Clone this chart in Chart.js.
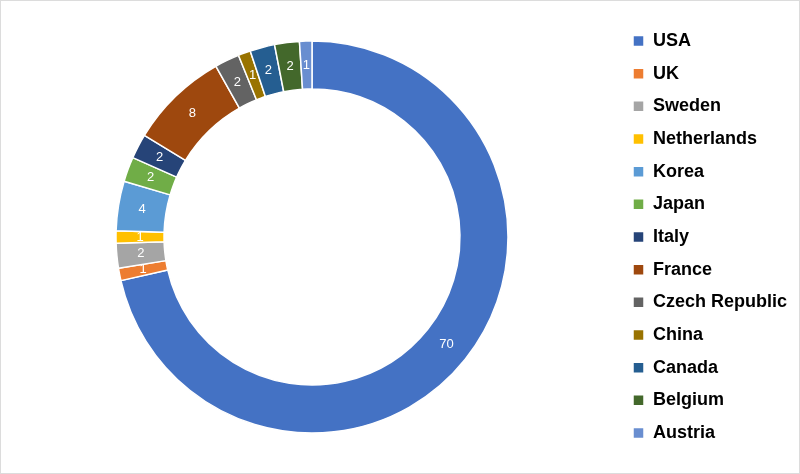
<!DOCTYPE html>
<html>
<head>
<meta charset="utf-8">
<script src="https://cdn.jsdelivr.net/npm/chart.js@4/dist/chart.umd.min.js"></script>
<style>
  html, body { margin: 0; padding: 0; background: #fff; }
  #wrap { width: 798px; height: 472px; border: 1px solid #dcdcdc; }
</style>
</head>
<body>
<div id="wrap"><canvas id="chart" width="798" height="472"></canvas></div>
<script>
const countries = ['USA', 'UK', 'Sweden', 'Netherlands', 'Korea', 'Japan', 'Italy',
  'France', 'Czech Republic', 'China', 'Canada', 'Belgium', 'Austria'];
const counts = [70, 1, 2, 1, 4, 2, 2, 8, 2, 1, 2, 2, 1];
const colors = ['#4472C4', '#ED7D31', '#A5A5A5', '#FFC000', '#5B9BD5', '#70AD47', '#264478',
  '#9E480E', '#636363', '#997300', '#255E91', '#43682B', '#698ED0'];

const legendFont = { family: "'Liberation Sans', Arial, sans-serif", size: 18, weight: 'bold' };
const legendPad = 14.67;

// measure widest legend label so the legend lands at the same x as the reference
const mctx = document.createElement('canvas').getContext('2d');
mctx.font = 'bold 18px "Liberation Sans", Arial, sans-serif';
const widest = Math.max(...countries.map(c => mctx.measureText(c).width));
const padRight = Math.max(0, 798 - 632 - 30 - widest);

// value labels in the middle of each slice
const sliceLabels = {
  id: 'sliceLabels',
  afterDatasetsDraw(chart) {
    const ctx = chart.ctx;
    const meta = chart.getDatasetMeta(0);
    ctx.save();
    ctx.font = '13px "Liberation Sans", Arial, sans-serif';
    ctx.fillStyle = '#ffffff';
    ctx.textAlign = 'center';
    ctx.textBaseline = 'middle';
    meta.data.forEach((arc, i) => {
      const p = arc.tooltipPosition();
      ctx.fillText(String(counts[i]), p.x, p.y);
    });
    ctx.restore();
  }
};

new Chart(document.getElementById('chart').getContext('2d'), {
  type: 'doughnut',
  data: {
    labels: countries,
    datasets: [{
      data: counts,
      backgroundColor: colors,
      borderColor: '#ffffff',
      borderWidth: 1.5,
      radius: 196,
      cutout: '75.5%'
    }]
  },
  options: {
    responsive: false,
    animation: false,
    layout: { padding: { left: 4.67, right: padRight, top: 0, bottom: 0 } },
    plugins: {
      legend: {
        position: 'right',
        labels: {
          boxWidth: 11,
          boxHeight: 11,
          padding: legendPad,
          color: '#000000',
          font: legendFont
        }
      },
      tooltip: { enabled: false }
    }
  },
  plugins: [sliceLabels]
});
</script>
</body>
</html>
